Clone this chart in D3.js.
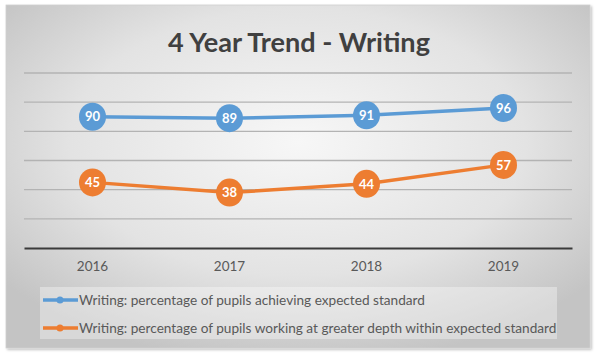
<!DOCTYPE html>
<html><head><meta charset="utf-8">
<script src="https://cdn.jsdelivr.net/npm/d3@7"></script>
<style>html,body{margin:0;padding:0;background:#fff;}svg{display:block;}</style>
</head><body>
<script>
const years = ["2016", "2017", "2018", "2019"];
const expected = [90, 89, 91, 96];
const greaterDepth = [45, 38, 44, 57];
const seriesNames = [
  "Writing: percentage of pupils achieving expected standard",
  "Writing: percentage of pupils working at greater depth within expected standard"
];
const seriesColors = ["#5B9BD5", "#ED7D31"];
const yTicks = [0, 20, 40, 60, 80, 100, 120];
const titleText = "4 Year Trend - Writing";

const W = 601, H = 357;
const svg = d3.select("body").append("svg").attr("width", W).attr("height", H);
const defs = svg.append("defs");
const rg = defs.append("radialGradient").attr("id", "bg")
  .attr("cx", "50%").attr("cy", "40%").attr("r", "65%");
rg.append("stop").attr("offset", "0%").attr("stop-color", "#f7f7f7");
rg.append("stop").attr("offset", "60%").attr("stop-color", "#e3e3e3");
rg.append("stop").attr("offset", "100%").attr("stop-color", "#c4c4c4");
const sh = defs.append("filter").attr("id", "sh").attr("x", "-5%").attr("y", "-5%").attr("width", "110%").attr("height", "110%");
sh.append("feDropShadow").attr("dx", 1.5).attr("dy", 1.5).attr("stdDeviation", 1.2).attr("flood-color", "#000").attr("flood-opacity", 0.25);

// chart frame
svg.append("rect").attr("x", 6).attr("y", 5).attr("width", 584).attr("height", 343)
  .attr("fill", "url(#bg)").attr("stroke", "#d0d0d0").attr("stroke-width", 0.8).attr("filter", "url(#sh)");

const plot = {left: 24, right: 572, top: 73, bottom: 248};
const x = d3.scaleBand().domain(years).range([plot.left, plot.right]);
const y = d3.scaleLinear().domain([0, 120]).range([plot.bottom, plot.top]);

// gridlines
svg.append("g").selectAll("line").data(yTicks.filter(d => d > 0)).join("line")
  .attr("x1", plot.left).attr("x2", plot.right)
  .attr("y1", d => y(d)).attr("y2", d => y(d))
  .attr("stroke", "#b3b3b3").attr("stroke-width", 1.3);

// x axis
const xAxis = d3.axisBottom(x).tickSize(0).tickPadding(13);
const gx = svg.append("g").attr("transform", `translate(0,${plot.bottom})`).call(xAxis);
gx.select(".domain").attr("stroke", "#3a3a3a").attr("stroke-width", 2.2);
gx.selectAll("text").attr("font-family", "Lato, 'Open Sans', sans-serif").attr("font-size", 13.5).attr("fill", "#595959");

// title
const title = svg.append("text").attr("x", 299).attr("y", 52).attr("text-anchor", "middle")
  .attr("font-family", "Lato, 'Open Sans', sans-serif").attr("font-weight", "bold")
  .attr("font-size", 26).attr("fill", "#404040").text(titleText);
{
  const w = title.node().getComputedTextLength();
  title.attr("font-size", 26 * 262 / w);
}

const cx = d => x(d) + x.bandwidth() / 2;
const line = d3.line().x(d => cx(d.year)).y(d => y(d.value));
[expected, greaterDepth].forEach((vals, i) => {
  const data = years.map((yr, j) => ({year: yr, value: vals[j]}));
  svg.append("path").datum(data).attr("d", line).attr("fill", "none")
    .attr("stroke", seriesColors[i]).attr("stroke-width", 3.5).attr("stroke-linejoin", "round");
  const g = svg.append("g").selectAll("g").data(data).join("g")
    .attr("transform", d => `translate(${cx(d.year)},${y(d.value)})`);
  g.append("ellipse").attr("rx", 13.5).attr("ry", 14).attr("fill", seriesColors[i]);
  g.append("text").attr("text-anchor", "middle").attr("dy", "0.36em")
    .attr("font-family", "Lato, 'Open Sans', sans-serif").attr("font-weight", "bold")
    .attr("font-size", 13).attr("fill", "#fff").text(d => d.value);
});

// legend
svg.append("rect").attr("x", 40).attr("y", 287).attr("width", 517).attr("height", 52)
  .attr("fill", "#ffffff").attr("fill-opacity", 0.35);
const lg = svg.append("g").selectAll("g").data(seriesNames).join("g")
  .attr("transform", (d, i) => `translate(0,${300 + i * 28})`);
lg.append("line").attr("x1", 43).attr("x2", 78).attr("stroke", (d, i) => seriesColors[i]).attr("stroke-width", 3.5);
lg.append("circle").attr("cx", 60).attr("r", 3.5).attr("fill", (d, i) => seriesColors[i]);
const lt = lg.append("text").attr("x", 79).attr("dy", "0.35em")
  .attr("font-family", "Lato, 'Open Sans', sans-serif").attr("font-size", 13.5).attr("fill", "#595959")
  .text(d => d);
{
  const w = lt.nodes()[1].getComputedTextLength();
  lt.attr("font-size", 13.5 * 478 / w);
}
</script>
</body></html>
